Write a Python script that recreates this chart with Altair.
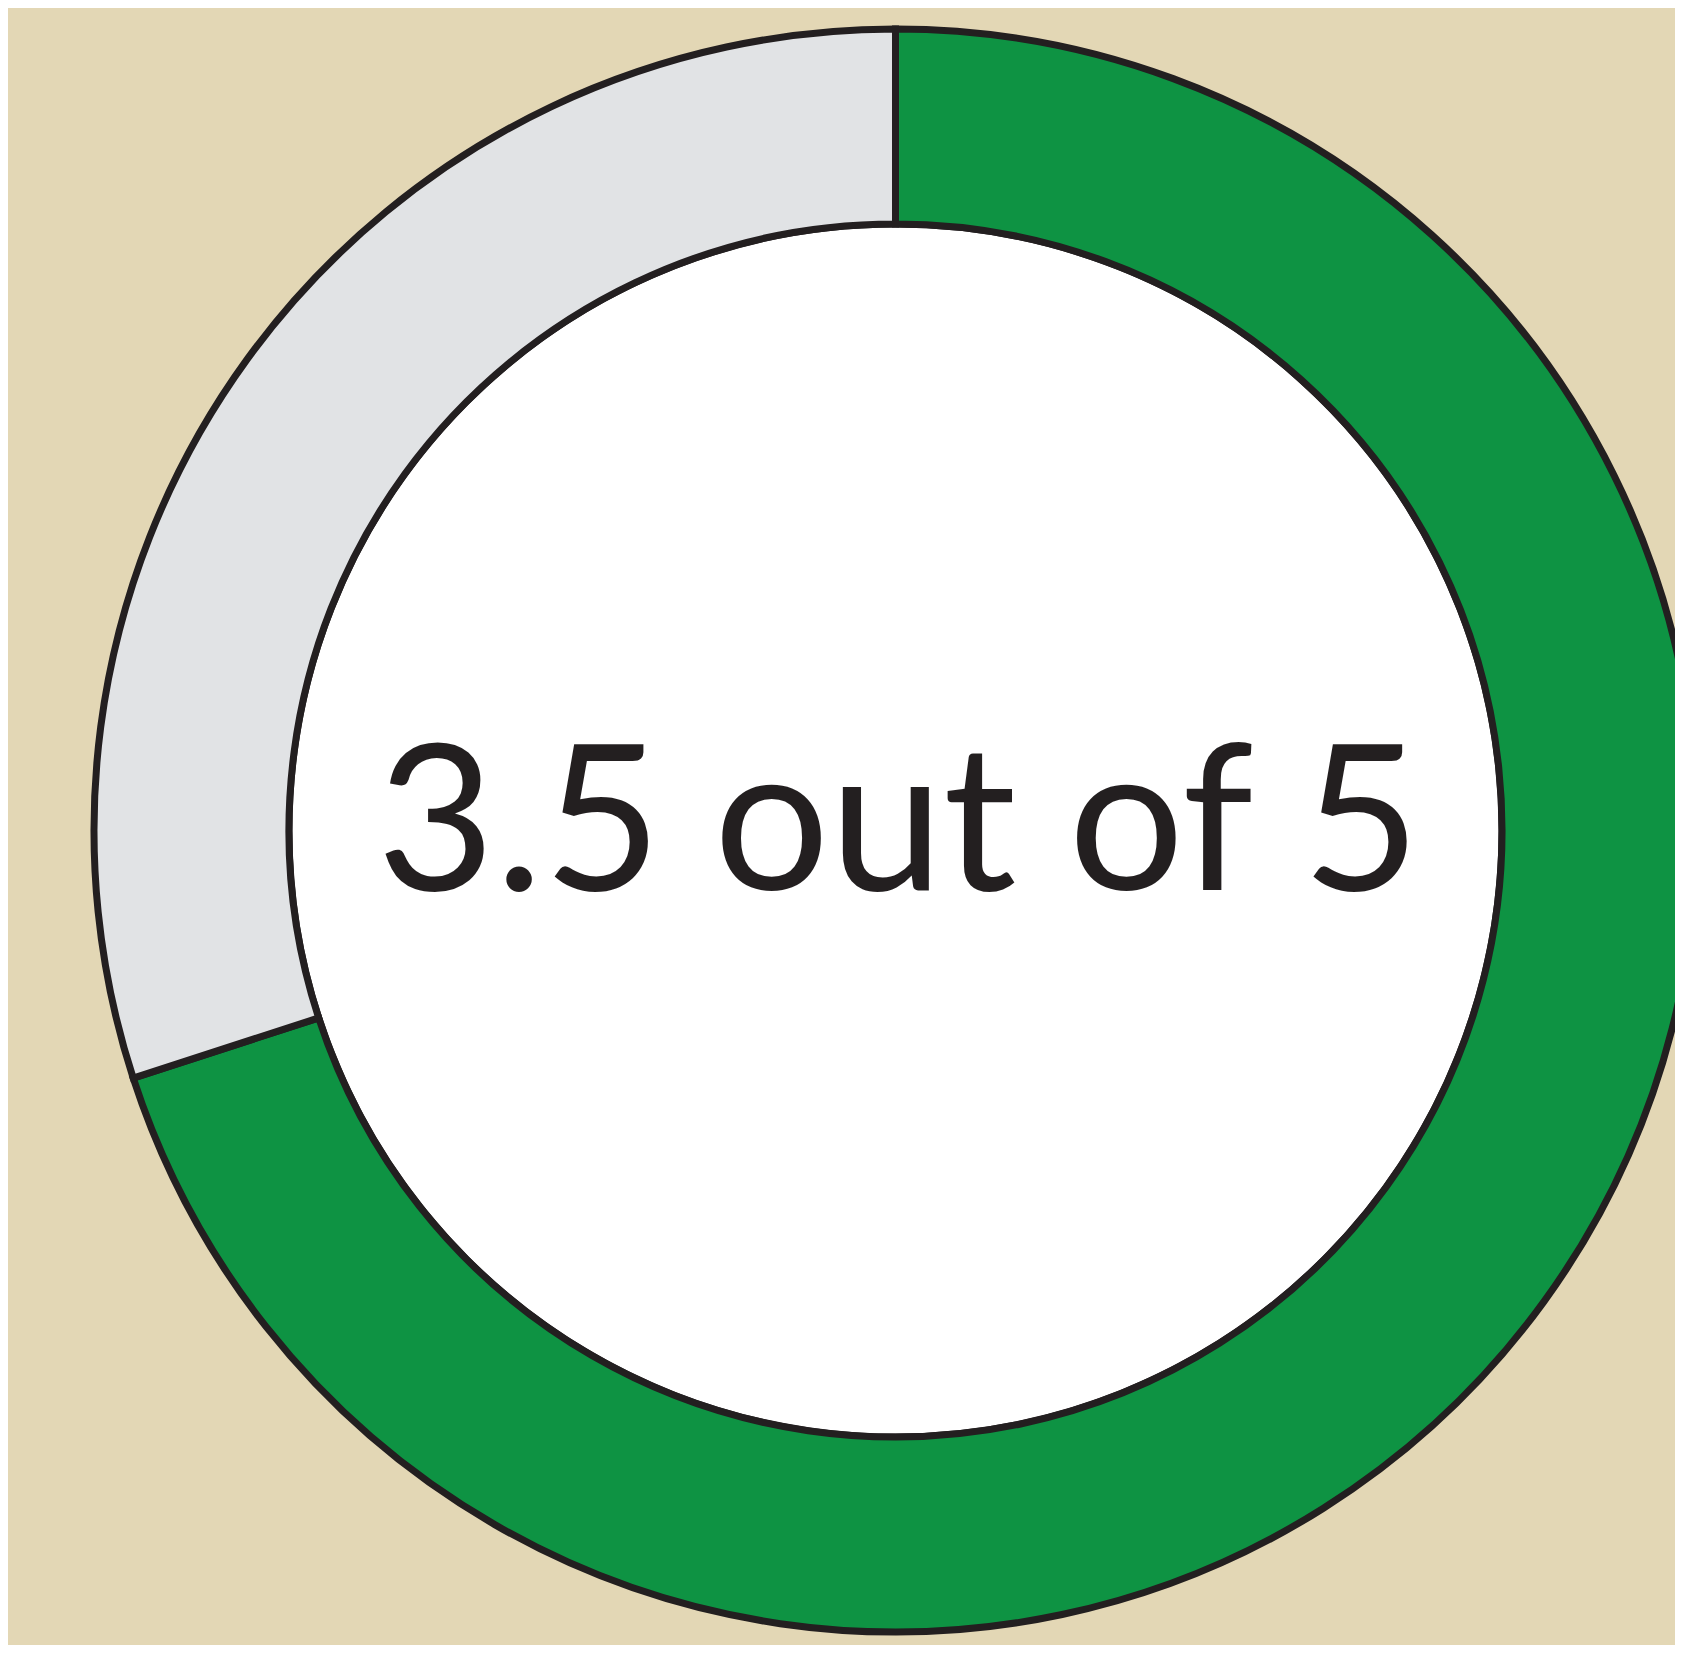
import altair as alt
import pandas as pd

# Data
categories = ["Score", "Remaining"]
values = [3.5, 1.5]
max_score = 5
label = "3.5 out of 5"

colors = ["#0E9343", "#E1E3E5"]

W, H = 1667, 1637
CX, CY = 887.5, 822.5
R_OUT, R_IN = 801.5, 606.5

df = pd.DataFrame({"category": categories, "value": values, "order": [0, 1]})

disc = alt.Chart(pd.DataFrame({"v": [1]})).mark_arc(
    radius=R_IN, theta=0, theta2=6.2832, fill="white", stroke="#231F20", strokeWidth=7
).encode(x=alt.value(CX), y=alt.value(CY))

donut = alt.Chart(df).mark_arc(
    radius=R_OUT, radius2=R_IN, stroke="#231F20", strokeWidth=7
).encode(
    theta=alt.Theta("value:Q", stack=True, scale=alt.Scale(domain=[0, max_score])),
    order=alt.Order("order:Q"),
    color=alt.Color("category:N", scale=alt.Scale(domain=categories, range=colors), legend=None),
    x=alt.value(CX),
    y=alt.value(CY),
)

text = alt.Chart(pd.DataFrame({"t": [label]})).mark_text(
    font="Lato", fontSize=204, color="#231F20", align="center", baseline="alphabetic"
).encode(text="t:N", x=alt.value(CX + 3), y=alt.value(882))

chart = alt.layer(disc, donut, text).properties(
    width=W, height=H, background="#E3D7B5",
    autosize=alt.AutoSizeParams(type="none"), padding=0
).configure_view(stroke=None)

chart.save("out.html", embed_options={"renderer": "svg", "actions": False})
